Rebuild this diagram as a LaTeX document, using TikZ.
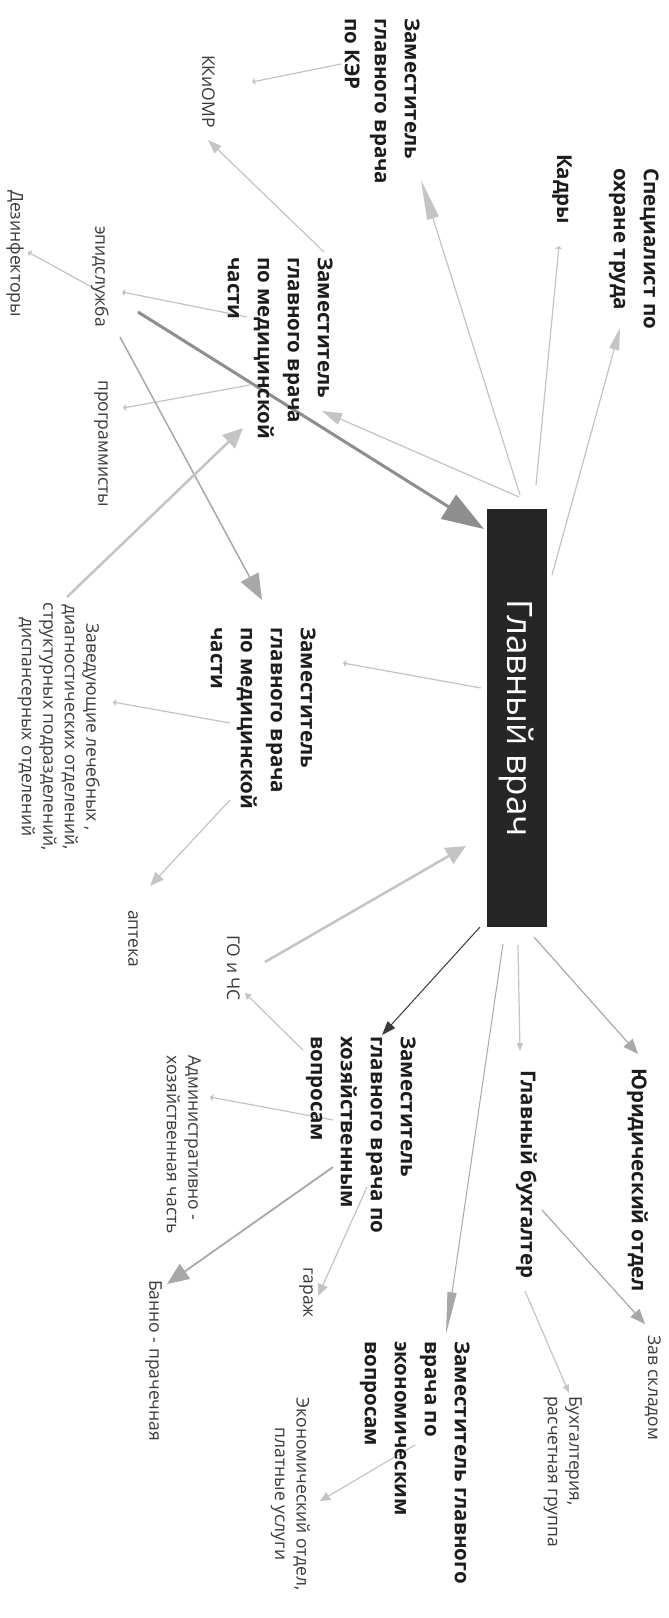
\documentclass[tikz,border=0pt]{standalone}
\usepackage{fontspec}
\setmainfont{Open Sans}
\usetikzlibrary{arrows.meta}
\definecolor{lgray}{HTML}{C4C4C4}
\definecolor{mgray}{HTML}{A8A8A8}
\definecolor{dgray}{HTML}{8E8E8E}
\definecolor{boxc}{HTML}{262626}
\definecolor{ink}{HTML}{1C1C1C}
\definecolor{ink2}{HTML}{3A3A3A}
\begin{document}
\begin{tikzpicture}[x=1pt,y=-1pt,
  big/.style={rotate=-90,anchor=north west,inner sep=0pt,align=left,text=ink,font=\fontsize{20.5}{30}\selectfont\bfseries},
  small/.style={rotate=-90,anchor=north west,inner sep=0pt,align=left,text=ink2,font=\fontsize{17.5}{21.5}\selectfont},
  chiefbox/.style={rotate=-90,fill=boxc,text=white,inner sep=0pt,minimum width=418pt,minimum height=60pt,font=\fontsize{35}{40}\selectfont},
  con/.style={draw=lgray,line width=1.2pt},
  tk/.style={-{Triangle[length=3pt,width=7pt]}}]
\useasboundingbox[fill=white] (0,0) rectangle (669,1618);

% coordinates for connector ends
\coordinate (chief-spec) at (552,575); \coordinate (spec-in) at (620,328);
\coordinate (chief-kadry) at (536,485); \coordinate (kadry-in) at (559,246);
\coordinate (chief-ker) at (520,495); \coordinate (ker-in) at (421,180);
\coordinate (chief-medA) at (519,497); \coordinate (medA-in) at (322,411);
\coordinate (epid-out) at (138,312); \coordinate (chief-in) at (484,529);
\coordinate (medA-kk) at (324,252); \coordinate (kk-in) at (208,140);
\coordinate (ker-kk) at (341,64); \coordinate (kk-in2) at (252,82);
\coordinate (medA-epid) at (247,317); \coordinate (epid-in) at (122,292);
\coordinate (epid-dez) at (97,290); \coordinate (dez-in) at (28,252);
\coordinate (medA-prog) at (250,385); \coordinate (prog-in) at (123,408);
\coordinate (epid-medB) at (120,337); \coordinate (medB-in) at (262,600);
\coordinate (zav-out) at (67,597); \coordinate (medA-in2) at (243,428);
\coordinate (chief-medB) at (481,688); \coordinate (medB-in2) at (343,663);
\coordinate (medB-zav) at (230,723); \coordinate (zav-in) at (113,702);
\coordinate (medB-apt) at (230,800); \coordinate (apt-in) at (150,886);
\coordinate (go-out) at (265,962); \coordinate (chief-in2) at (466,846);
\coordinate (chief-hoz) at (480,927); \coordinate (hoz-in) at (382,1035);
\coordinate (chief-econ) at (503,944); \coordinate (econ-in) at (446,1334);
\coordinate (chief-buh) at (518,945); \coordinate (buh-in) at (520,1051);
\coordinate (chief-yur) at (534,937); \coordinate (yur-in) at (638,1054);
\coordinate (hoz-go) at (303,1050); \coordinate (go-in) at (245,993);
\coordinate (yur-zs) at (542,1210); \coordinate (zs-in) at (645,1324);
\coordinate (buh-bg) at (525,1291); \coordinate (bg-in) at (569,1393);
\coordinate (hoz-adm) at (333,1120); \coordinate (adm-in) at (210,1097);
\coordinate (hoz-gar) at (367,1187); \coordinate (gar-in) at (318,1296);
\coordinate (hoz-ban) at (333,1167); \coordinate (ban-in) at (167,1284);
\coordinate (econ-eo) at (415,1445); \coordinate (eo-in) at (320,1501);

% connectors
\draw[con,-{Triangle[length=22pt,width=10pt]}] (chief-spec) -- (spec-in);
\draw[con,tk] (chief-kadry) -- (kadry-in);
\draw[con,-{Triangle[length=40pt,width=12pt]}] (chief-ker) -- (ker-in);
\draw[con,-{Triangle[length=20pt,width=12pt]}] (chief-medA) -- (medA-in);
\draw[draw=dgray,line width=3pt,-{Triangle[length=42pt,width=28pt]}] (epid-out) -- (chief-in);
\draw[con,-{Triangle[length=14pt,width=10pt]}] (medA-kk) -- (kk-in);
\draw[con,tk] (ker-kk) -- (kk-in2);
\draw[con,tk] (medA-epid) -- (epid-in);
\draw[con,tk] (epid-dez) -- (dez-in);
\draw[con,tk] (medA-prog) -- (prog-in);
\draw[draw=mgray,line width=1.5pt,-{Triangle[length=26pt,width=20pt]}] (epid-medB) -- (medB-in);
\draw[draw=lgray,line width=2.5pt,-{Triangle[length=20pt,width=18pt]}] (zav-out) -- (medA-in2);
\draw[con,tk] (chief-medB) -- (medB-in2);
\draw[con,tk] (medB-zav) -- (zav-in);
\draw[con,-{Triangle[length=14pt,width=11pt]}] (medB-apt) -- (apt-in);
\draw[draw=lgray,line width=2.5pt,-{Triangle[length=20pt,width=18pt]}] (go-out) -- (chief-in2);
\draw[draw=ink2,line width=1pt,-{Triangle[length=14pt,width=10pt]}] (chief-hoz) -- (hoz-in);
\draw[draw=mgray,line width=1pt,-{Triangle[length=42pt,width=9pt]}] (chief-econ) -- (econ-in);
\draw[con,-{Triangle[length=8pt,width=6pt]}] (chief-buh) -- (buh-in);
\draw[draw=mgray,line width=1.2pt,-{Triangle[length=15pt,width=12pt]}] (chief-yur) -- (yur-in);
\draw[con,-{Triangle[length=6pt,width=7pt]}] (hoz-go) -- (go-in);
\draw[draw=mgray,line width=1.2pt,-{Triangle[length=15pt,width=12pt]}] (yur-zs) -- (zs-in);
\draw[con,-{Triangle[length=8pt,width=6pt]}] (buh-bg) -- (bg-in);
\draw[con,tk] (hoz-adm) -- (adm-in);
\draw[con,-{Triangle[length=12pt,width=10pt]}] (hoz-gar) -- (gar-in);
\draw[draw=mgray,line width=1.8pt,-{Triangle[length=22pt,width=18pt]}] (hoz-ban) -- (ban-in);
\draw[con,-{Triangle[length=10pt,width=9pt]}] (econ-eo) -- (eo-in);

% nodes
\node[chiefbox] (chief) at (517,718) {Главный врач};
\node[big] (spec) at (659,168) {Специалист по\\охране труда};
\node[big] (kadry) at (572,154) {Кадры};
\node[big] (ker) at (420,18) {Заместитель\\главного врача\\по КЭР};
\node[small] (kkiomr) at (215,55) {ККиОМР};
\node[big] (medA) at (333,257) {Заместитель\\главного врача\\по медицинской\\части};
\node[small] (epid) at (109,226) {эпидслужба};
\node[small] (dez) at (24,190) {Дезинфекторы};
\node[small] (prog) at (108,380) {программисты};
\node[big] (medB) at (316,627) {Заместитель\\главного врача\\по медицинской\\части};
\node[small,align=center,anchor=north] (zav) at (100,727) {Заведующие лечебных ,\\диагностических отделений,\\структурных подразделений,\\диспансерных отделений};
\node[small] (apteka) at (138,910) {аптека};
\node[small] (go) at (240,935) {ГО и ЧС};
\node[big] (hoz) at (416,1036) {Заместитель\\главного врача по\\хозяйственным\\вопросам};
\node[small] (adm) at (201,1055) {Административно -\\хозяйственная часть};
\node[small] (garazh) at (313,1267) {гараж};
\node[small] (banno) at (162,1280) {Банно - прачечная};
\node[big] (yur) at (648,1068) {Юридический отдел};
\node[big] (buh) at (537,1070) {Главный бухгалтер};
\node[small] (zavskl) at (661,1335) {Зав складом};
\node[small] (buhgr) at (582,1396) {Бухгалтерия,\\расчетная группа};
\node[big] (econ) at (470,1341) {Заместитель главного\\врача по\\экономическим\\вопросам};
\node[small,align=center,anchor=north] (ecotd) at (310,1494) {Экономический отдел,\\платные услуги};
\end{tikzpicture}
\end{document}
